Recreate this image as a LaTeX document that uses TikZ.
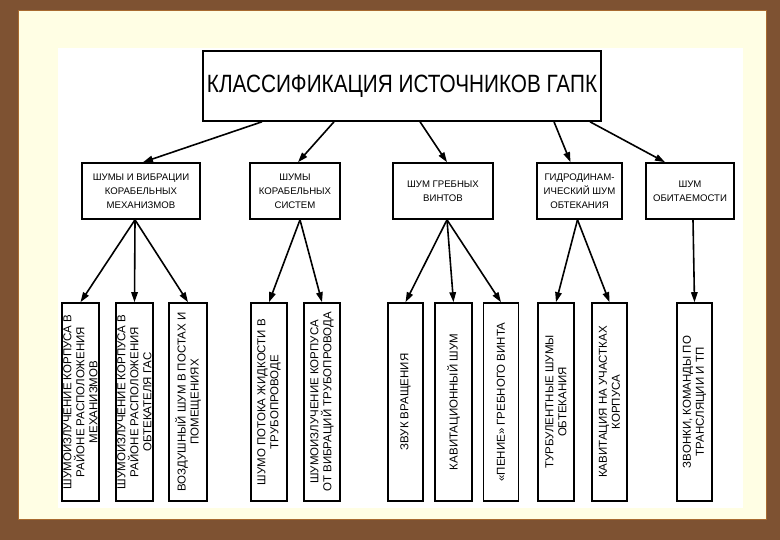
\documentclass[tikz,border=0pt]{standalone}
\usepackage{graphicx}
\usepackage{fontspec}
\setmainfont{Liberation Sans}
\usetikzlibrary{arrows.meta,calc}
\definecolor{wood}{HTML}{7E5232}
\definecolor{woodline}{HTML}{A86A30}
\definecolor{cream}{HTML}{FFFEE4}
\begin{document}
\begin{tikzpicture}[x=1pt,y=-1pt,
  box/.style={draw=black,line width=1.6pt,fill=white,inner sep=0pt,align=center},
  lev2/.style={box,minimum height=56pt,font=\fontsize{9.6}{14}\selectfont},
  lev3/.style={box,rotate=90,minimum width=198pt,font=\fontsize{11.5}{13}\selectfont},
  arr/.style={line width=1.6pt,-{Triangle[length=10pt,width=6.5pt]}}]
% background
\fill[wood] (0,0) rectangle (780,540);
\fill[cream] (18,11) rectangle (766,519);
\draw[woodline,line width=1pt] (18,11) rectangle (766,519);
\fill[white] (58,48) rectangle (743,508);
\useasboundingbox (0,0) rectangle (780,540);
% top
\node[box,minimum width=398pt,minimum height=70pt] (top) at (402,86)
  {\fontsize{25}{30}\selectfont\scalebox{0.83}[1]{КЛАССИФИКАЦИЯ ИСТОЧНИКОВ ГАПК}};
% level 2
\node[lev2,minimum width=118pt] (b1) at (141,191) {ШУМЫ И ВИБРАЦИИ\\КОРАБЕЛЬНЫХ\\МЕХАНИЗМОВ};
\node[lev2,minimum width=90pt] (b2) at (295,191) {ШУМЫ\\КОРАБЕЛЬНЫХ\\СИСТЕМ};
\node[lev2,minimum width=100pt] (b3) at (443,191) {ШУМ ГРЕБНЫХ\\ВИНТОВ};
\node[lev2,minimum width=85pt] (b4) at (579.5,191) {ГИДРОДИНАМ-\\ИЧЕСКИЙ ШУМ\\ОБТЕКАНИЯ};
\node[lev2,minimum width=88pt] (b5) at (690,191) {ШУМ\\ОБИТАЕМОСТИ};
% level 3
\node[lev3,minimum height=37pt] (a) at (80.5,402) {ШУМОИЗЛУЧЕНИЕ КОРПУСА В\\РАЙОНЕ РАСПОЛОЖЕНИЯ\\МЕХАНИЗМОВ};
\node[lev3,minimum height=37pt] (b) at (134.5,402) {ШУМОИЗЛУЧЕНИЕ КОРПУСА В\\РАЙОНЕ РАСПОЛОЖЕНИЯ\\ОБТЕКАТЕЛЯ ГАС};
\node[lev3,minimum height=38pt] (c) at (188,402) {ВОЗДУШНЫЙ ШУМ В ПОСТАХ И\\ПОМЕЩЕНИЯХ};
\node[lev3,minimum height=36pt] (d) at (269,402) {ШУМО ПОТОКА ЖИДКОСТИ В\\ТРУБОПРОВОДЕ};
\node[lev3,minimum height=36pt] (e) at (322,402) {ШУМОИЗЛУЧЕНИЕ КОРПУСА\\ОТ ВИБРАЦИЙ ТРУБОПРОВОДА};
\node[lev3,minimum height=35pt] (f) at (405.5,402) {ЗВУК ВРАЩЕНИЯ};
\node[lev3,minimum height=37pt] (g) at (453.5,402) {КАВИТАЦИОННЫЙ ШУМ};
\node[lev3,minimum height=35pt] (h) at (501,402) {«ПЕНИЕ» ГРЕБНОГО ВИНТА};
\node[lev3,minimum height=36pt] (i) at (556,402) {ТУРБУЛЕНТНЫЕ ШУМЫ\\ОБТЕКАНИЯ};
\node[lev3,minimum height=35pt] (j) at (609.5,402) {КАВИТАЦИЯ НА УЧАСТКАХ\\КОРПУСА};
\node[lev3,minimum height=35pt] (k) at (694.5,402) {ЗВОНКИ, КОМАНДЫ ПО\\ТРАНСЛЯЦИИ И ТП};
% arrows top -> level 2
\draw[arr] ([xshift=-140pt]top.south) -- ([xshift=2pt]b1.north);
\draw[arr] ([xshift=-68pt]top.south) -- ([xshift=3pt]b2.north);
\draw[arr] ([xshift=18pt]top.south) -- ([xshift=4pt]b3.north);
\draw[arr] ([xshift=152pt]top.south) -- ([xshift=-9pt]b4.north);
\draw[arr] ([xshift=188pt]top.south) -- ([xshift=-25pt]b5.north);
% arrows level 2 -> level 3
\draw[arr] ([xshift=-6pt]b1.south) -- (a.east);
\draw[arr] ([xshift=-6pt]b1.south) -- (b.east);
\draw[arr] ([xshift=-6pt]b1.south) -- (c.east);
\draw[arr] ([xshift=5pt]b2.south) -- (d.east);
\draw[arr] ([xshift=5pt]b2.south) -- (e.east);
\draw[arr] ([xshift=4pt]b3.south) -- (f.east);
\draw[arr] ([xshift=4pt]b3.south) -- (g.east);
\draw[arr] ([xshift=4pt]b3.south) -- (h.east);
\draw[arr] ([xshift=-2pt]b4.south) -- (i.east);
\draw[arr] ([xshift=-2pt]b4.south) -- (j.east);
\draw[arr] ([xshift=3pt]b5.south) -- (k.east);
\end{tikzpicture}
\end{document}
